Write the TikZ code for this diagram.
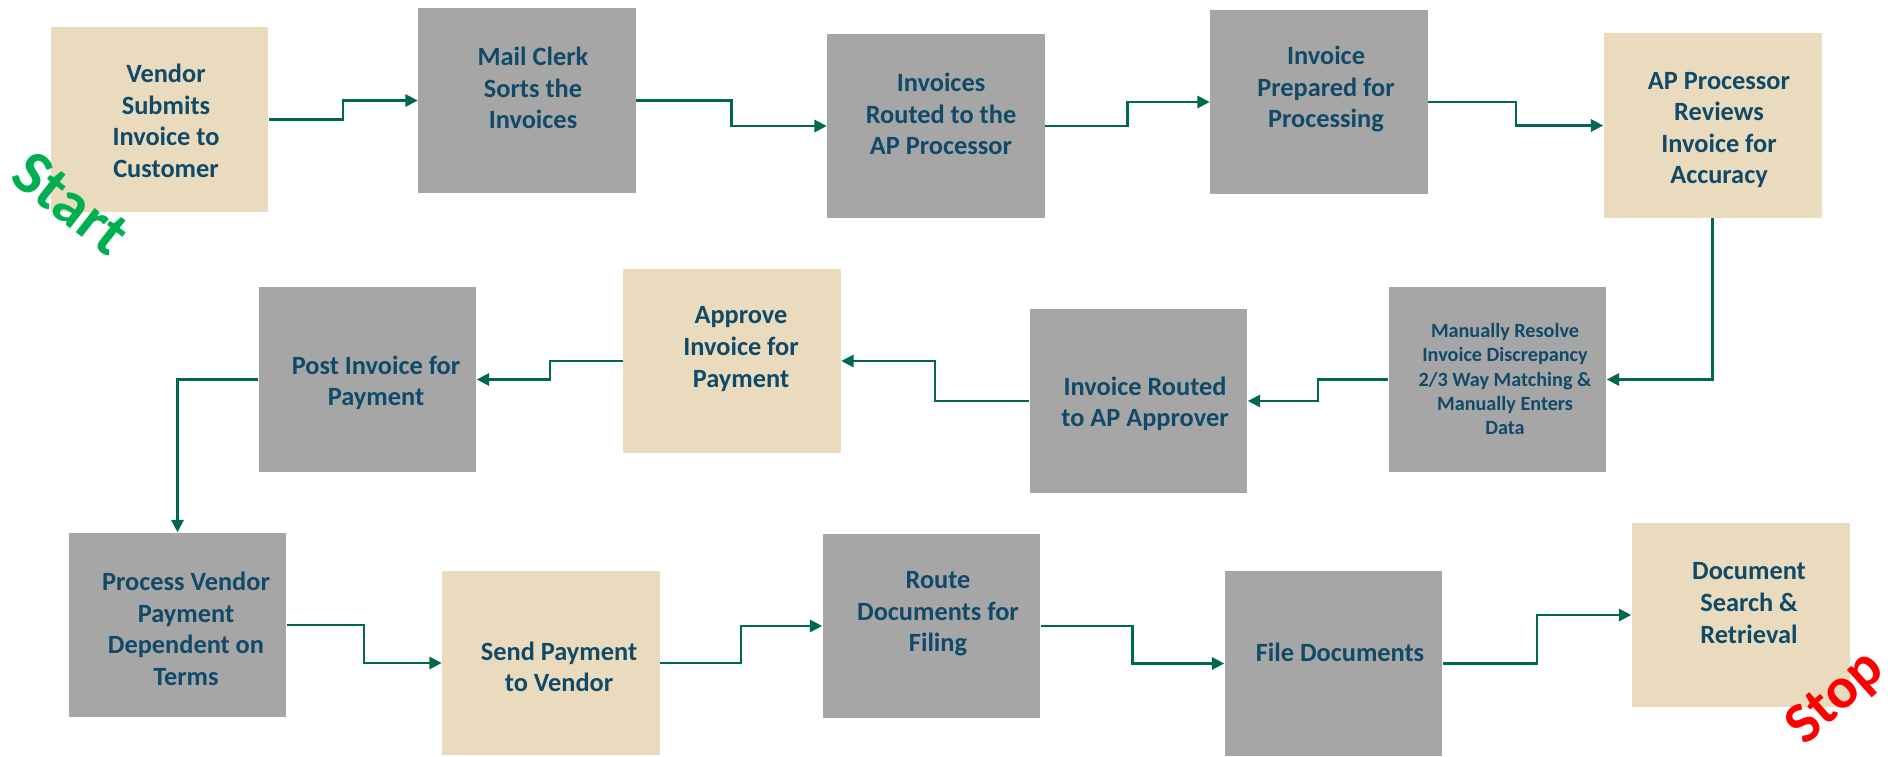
\documentclass[tikz,border=0pt]{standalone}
\usepackage{fontspec}
\setmainfont{Carlito}
\usetikzlibrary{calc,arrows.meta}
\definecolor{beige}{RGB}{234,219,190}
\definecolor{boxgray}{RGB}{166,166,166}
\definecolor{txtblue}{RGB}{16,74,104}
\definecolor{arrgreen}{RGB}{0,104,80}
\definecolor{startgreen}{RGB}{0,176,80}
\definecolor{stopred}{RGB}{255,0,0}
\begin{document}
\begin{tikzpicture}[x=0.02cm,y=-0.02cm,
 box/.style={fill=#1, draw=none, minimum width=4.36cm, minimum height=3.7cm, inner sep=0pt},
 txt/.style={text=txtblue, font=\bfseries\fontsize{15}{18}\selectfont, align=center, inner sep=0pt},
 smalltxt/.style={text=txtblue, font=\bfseries\fontsize{11.5}{13.7}\selectfont, align=center, inner sep=0pt},
 conn/.style={draw=arrgreen, line width=1.3pt, -{Triangle[length=7pt,width=7pt]}},
 elbow/.style={to path={-| ($(\tikztostart)!0.5!(\tikztotarget)$) |- (\tikztotarget)}}]
\path[use as bounding box] (0,0) rectangle (1893,757);

% boxes
\node[box=beige]    (b1)  at (159.5,119.5) {};
\node[box=boxgray]  (b2)  at (527,100.5) {};
\node[box=boxgray]  (b3)  at (936,126) {};
\node[box=boxgray]  (b4)  at (1319,102) {};
\node[box=beige]    (b5)  at (1712.5,125.5) {};
\node[box=boxgray]  (b6)  at (1497.5,379.5) {};
\node[box=boxgray]  (b7)  at (1138.5,401) {};
\node[box=beige]    (b8)  at (732,361) {};
\node[box=boxgray]  (b9)  at (367.5,379.5) {};
\node[box=boxgray]  (b10) at (177.5,625) {};
\node[box=beige]    (b11) at (551,663) {};
\node[box=boxgray]  (b12) at (931.5,626) {};
\node[box=boxgray]  (b13) at (1333.5,663.5) {};
\node[box=beige]    (b14) at (1740.5,615) {};

% texts
\node[txt] (t1)  at (166,121) {Vendor\\Submits\\Invoice to\\Customer};
\node[txt] (t2)  at (533,88) {Mail Clerk\\Sorts the\\Invoices};
\node[txt] (t3)  at (941,114) {Invoices\\Routed to the\\AP Processor};
\node[txt] (t4)  at (1326,89) {Invoice\\Prepared for\\Processing};
\node[txt] (t5)  at (1719,130) {AP Processor\\Reviews\\Invoice for\\Accuracy};
\node[smalltxt] (t6) at (1505,379) {Manually Resolve\\Invoice Discrepancy\\2/3 Way Matching \&\\Manually Enters\\Data};
\node[txt] (t7)  at (1145,404) {Invoice Routed\\to AP Approver};
\node[txt] (t8)  at (741,349) {Approve\\Invoice for\\Payment};
\node[txt] (t9)  at (376,383) {Post Invoice for\\Payment};
\node[txt] (t10) at (186,629) {Process Vendor\\Payment\\Dependent on\\Terms};
\node[txt] (t11) at (559,667) {Send Payment\\to Vendor};
\node[txt] (t12) at (938,614) {Route\\Documents for\\Filing};
\node[txt] (t13) at (1340,652) {File Documents};
\node[txt] (t14) at (1749,603) {Document\\Search \&\\Retrieval};

% connectors
\draw[conn] (b1.east) to[elbow] (b2.west);
\draw[conn] (b2.east) to[elbow] (b3.west);
\draw[conn] (b3.east) to[elbow] (b4.west);
\draw[conn] (b4.east) to[elbow] (b5.west);
\draw[conn] (b5.south) |- (b6.east);
\draw[conn] (b6.west) to[elbow] (b7.east);
\draw[conn] (b7.west) to[elbow] (b8.east);
\draw[conn] (b8.west) to[elbow] (b9.east);
\draw[conn] (b9.west) -| (b10.north);
\draw[conn] (b10.east) to[elbow] (b11.west);
\draw[conn] (b11.east) to[elbow] (b12.west);
\draw[conn] (b12.east) to[elbow] (b13.west);
\draw[conn] (b13.east) to[elbow] (b14.west);

% start / stop
\node[rotate=-38, text=startgreen, font=\bfseries\fontsize{36}{43}\selectfont, inner sep=0pt] (start) at (71,203) {Start};
\node[rotate=42, text=stopred, font=\bfseries\fontsize{33}{40}\selectfont, inner sep=0pt] (stop) at (1836,699) {Stop};
\end{tikzpicture}
\end{document}
